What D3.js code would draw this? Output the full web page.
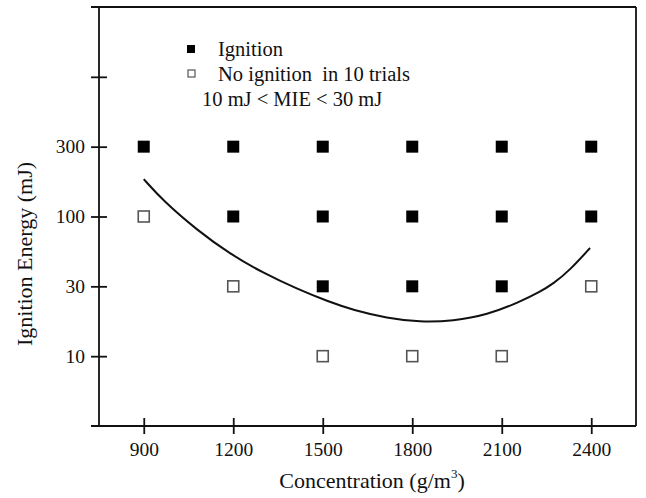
<!DOCTYPE html>
<html><head><meta charset="utf-8">
<script src="https://cdn.jsdelivr.net/npm/d3@7"></script>
<style>
body{margin:0;background:#fff;}
text{font-family:"Liberation Serif","Times New Roman",serif;fill:#111;}
</style></head>
<body><svg id="c" width="646" height="498"></svg>
<script>
// ---- data ----
const concentrations = [900, 1200, 1500, 1800, 2100, 2400];
const energyTicks = [10, 30, 100, 300, 1000];
const energyTickLabels = ["10", "30", "100", "300", ""];
// Ignition (filled squares)
const ignitionConc   = [900, 1200, 1500, 1800, 2100, 2400, 1200, 1500, 1800, 2100, 2400, 1500, 1800, 2100];
const ignitionEnergy = [300, 300, 300, 300, 300, 300, 100, 100, 100, 100, 100, 30, 30, 30];
// No ignition in 10 trials (open squares)
const noIgnConc   = [900, 1200, 2400, 1500, 1800, 2100];
const noIgnEnergy = [100, 30, 30, 10, 10, 10];
// MIE fitted curve
const curveConc = [900, 965, 1078, 1189, 1300, 1414, 1521, 1601, 1715, 1826, 1937, 2051, 2161, 2228, 2272, 2329, 2396];
const curveMIE  = [180, 128, 79.3, 52.4, 37.8, 28.8, 23.5, 20.7, 18.2, 17.1, 17.4, 19.1, 23.5, 27.5, 31.3, 39.8, 58.1];
const legendItems = ["Ignition", "No ignition  in 10 trials"];
const legendNote = "10 mJ < MIE < 30 mJ";

// ---- layout ----
const svg = d3.select("#c");
const L = 99, R = 636, T = 7, B = 426;
const x = d3.scaleLinear().domain([750, 2550]).range([L, R]);
const step = (B - T) / 6;
const y = d3.scaleLog().domain([3, 10, 30, 100, 300, 1000, 3000])
  .range(d3.range(7).map(i => B - i * step));

// frame
const frame = svg.append("g").attr("stroke", "#111").attr("stroke-width", 1.8).attr("fill", "none");
frame.append("line").attr("x1", 91).attr("x2", R).attr("y1", T).attr("y2", T);
frame.append("line").attr("x1", 91).attr("x2", R).attr("y1", B).attr("y2", B);
frame.append("line").attr("x1", L).attr("x2", L).attr("y1", T).attr("y2", B);
frame.append("line").attr("x1", R).attr("x2", R).attr("y1", T).attr("y2", B);

// x axis
const xa = svg.append("g").attr("transform", `translate(0,${B})`)
  .call(d3.axisBottom(x).tickValues(concentrations).tickSize(8).tickPadding(8).tickFormat(d3.format("d")));
xa.select(".domain").remove();
xa.selectAll(".tick line").attr("y1", -8).attr("y2", 8).attr("stroke", "#111").attr("stroke-width", 1.8);
xa.selectAll(".tick text").attr("font-size", 19.5).attr("font-family", "Liberation Serif").attr("fill", "#111");

// y axis
const ya = svg.append("g").attr("transform", `translate(${L},0)`)
  .call(d3.axisLeft(y).tickValues(energyTicks).tickSize(8).tickPadding(6)
    .tickFormat((d, i) => energyTickLabels[i]));
ya.select(".domain").remove();
ya.selectAll(".tick line").attr("x1", 8).attr("x2", -8).attr("stroke", "#111").attr("stroke-width", 1.8);
ya.selectAll(".tick text").attr("font-size", 19.5).attr("font-family", "Liberation Serif").attr("fill", "#111");

// curve
const line = d3.line().x(d => x(d[0])).y(d => y(d[1])).curve(d3.curveBasis);
svg.append("path").datum(curveConc.map((c, i) => [c, curveMIE[i]]))
  .attr("d", line).attr("fill", "none").attr("stroke", "#111").attr("stroke-width", 2);

// markers
const S = 12;
svg.append("g").selectAll("rect").data(ignitionConc.map((c, i) => [c, ignitionEnergy[i]]))
  .join("rect").attr("x", d => x(d[0]) - S / 2).attr("y", d => y(d[1]) - S / 2)
  .attr("width", S).attr("height", S).attr("fill", "#000");
const So = 11;
svg.append("g").selectAll("rect").data(noIgnConc.map((c, i) => [c, noIgnEnergy[i]]))
  .join("rect").attr("x", d => x(d[0]) - So / 2).attr("y", d => y(d[1]) - So / 2)
  .attr("width", So).attr("height", So).attr("fill", "#fff").attr("stroke", "#555").attr("stroke-width", 1.6);

// legend
const lg = svg.append("g");
lg.append("rect").attr("x", 187).attr("y", 45).attr("width", 8).attr("height", 8).attr("fill", "#000");
lg.append("rect").attr("x", 188).attr("y", 70).attr("width", 7).attr("height", 7).attr("fill", "#fff").attr("stroke", "#555").attr("stroke-width", 1.2);
lg.append("text").attr("x", 218).attr("y", 56).attr("font-size", 20.5).text(legendItems[0]);
lg.append("text").attr("x", 218).attr("y", 81).attr("font-size", 20.5).attr("xml:space", "preserve").style("white-space", "pre").text(legendItems[1]);
lg.append("text").attr("x", 202).attr("y", 106).attr("font-size", 20.5).text(legendNote);

// axis titles
const xt = svg.append("text").attr("x", 372).attr("y", 488).attr("text-anchor", "middle").attr("font-size", 22);
xt.append("tspan").text("Concentration (g/m");
xt.append("tspan").attr("font-size", 13).attr("dy", -10).text("3");
xt.append("tspan").attr("dy", 10).text(")");
svg.append("text").attr("transform", "translate(32,254) rotate(-90)").attr("text-anchor", "middle")
  .attr("font-size", 22).text("Ignition Energy (mJ)");
</script></body></html>
